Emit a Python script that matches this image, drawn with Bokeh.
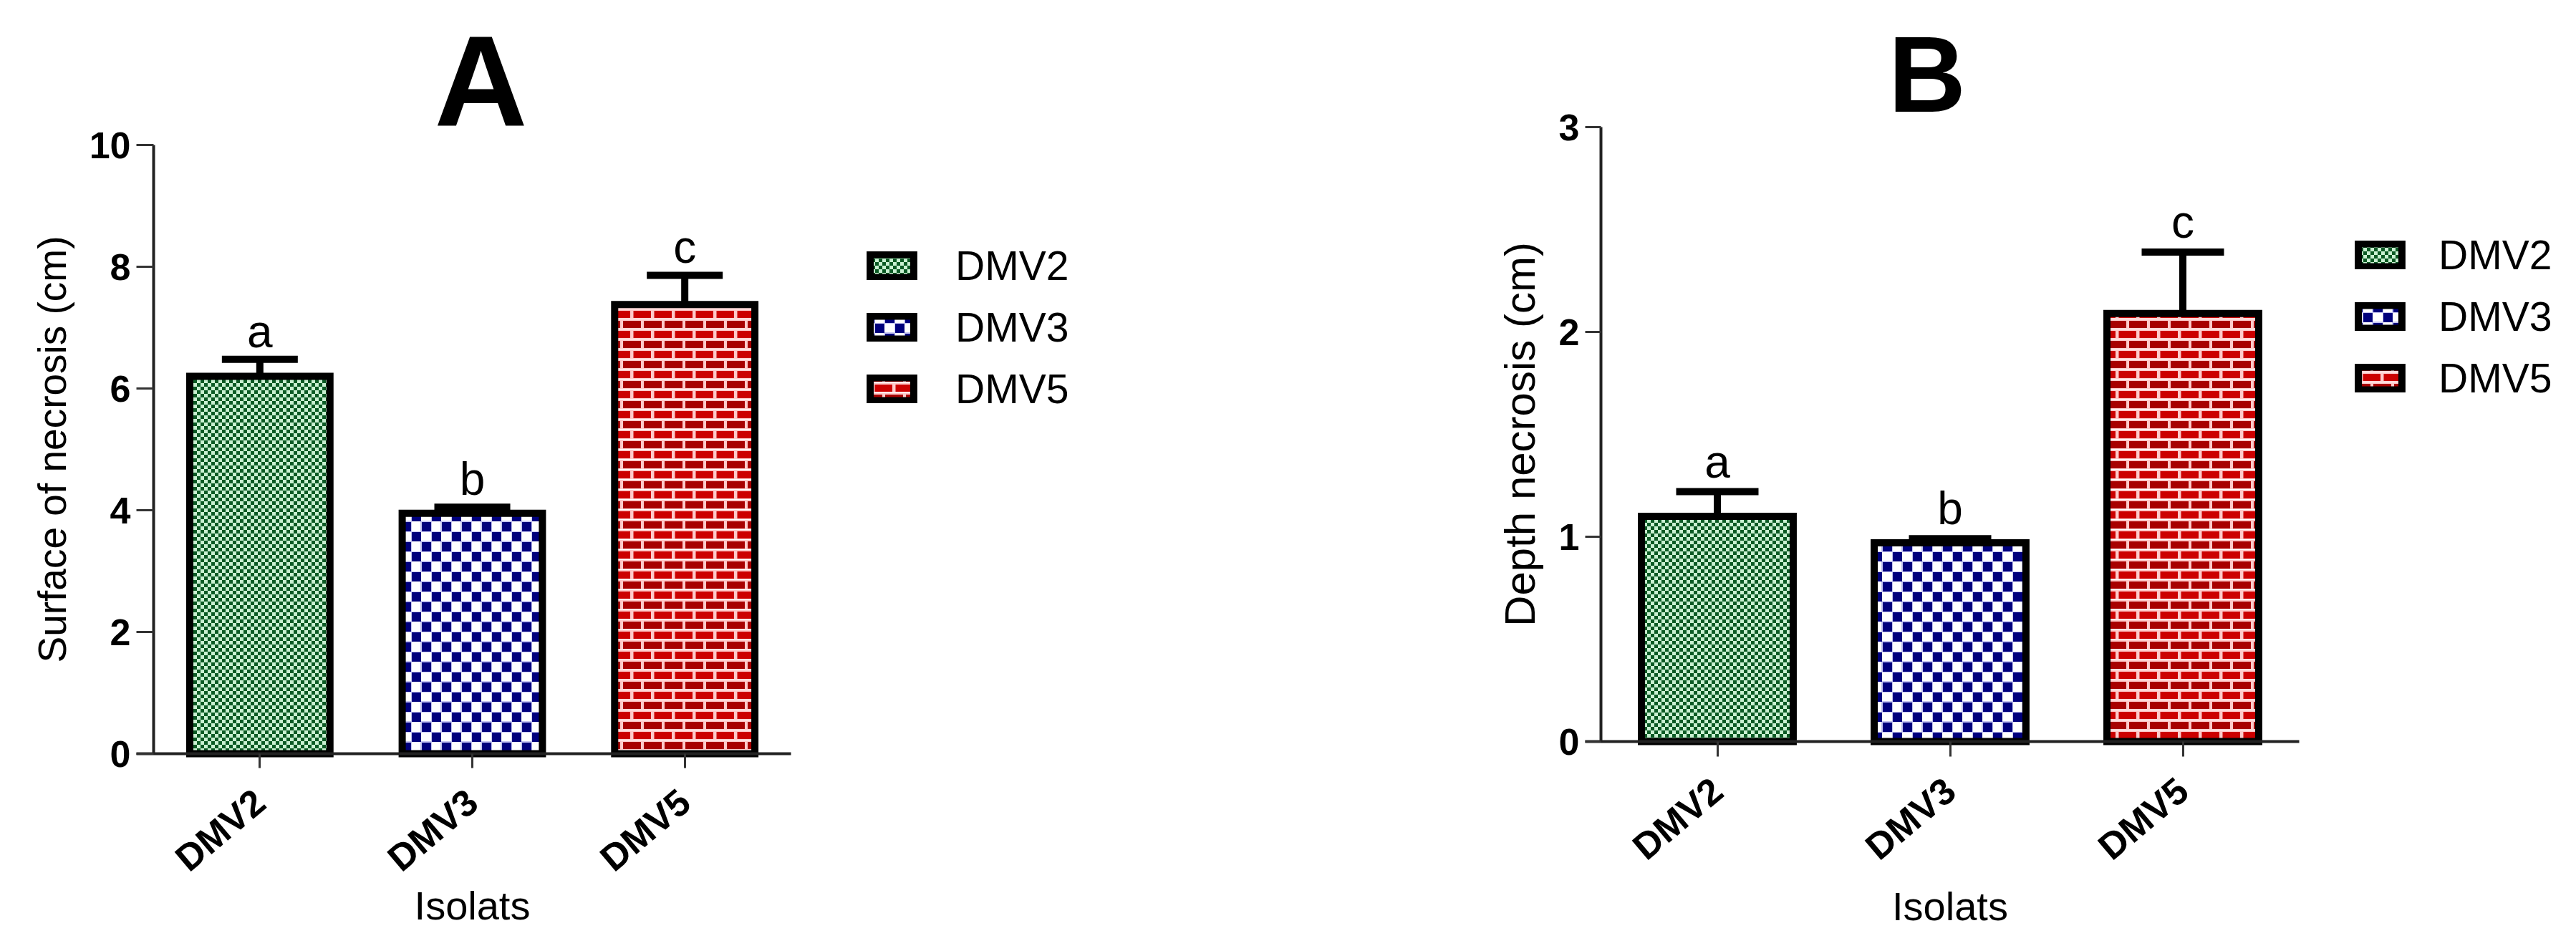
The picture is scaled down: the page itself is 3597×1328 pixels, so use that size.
import math
from bokeh.plotting import figure
from bokeh.models import (ColumnDataSource, Range1d, FixedTicker, Whisker, TeeHead,
                          Legend, LegendItem, LabelSet, CanvasTexture)
from bokeh.core.properties import value
from bokeh.layouts import row
from bokeh.embed import file_html
from bokeh.resources import INLINE

# ---------------- data ----------------
isolates = ["DMV2", "DMV3", "DMV5"]
letters = ["a", "b", "c"]
surface_mean = [6.2, 3.95, 7.38]
surface_se = [0.28, 0.10, 0.48]
depth_mean = [1.10, 0.97, 2.09]
depth_se = [0.12, 0.02, 0.30]
surface_ticks = [0, 2, 4, 6, 8, 10]
depth_ticks = [0, 1, 2, 3]
x_title = "Isolats"

# ---------------- styles ----------------
FONT = "Liberation Sans"
patterns = ["chk_green", "chk_blue", "brick"]
pattern_scales = [10, 28, 29]
base_colors = ["#cdf3d5", "#ffffff", "#ffd6d6"]

TEX = {
    "chk_green": CanvasTexture(code="""
        ctx.canvas.width = 10; ctx.canvas.height = 10;
        ctx.fillStyle = '#c9f0d1'; ctx.fillRect(0, 0, 10, 10);
        ctx.fillStyle = '#0b5a24';
        ctx.fillRect(0, 0, 5, 5); ctx.fillRect(5, 5, 5, 5);
    """),
    "chk_blue": CanvasTexture(code="""
        ctx.canvas.width = 28; ctx.canvas.height = 28;
        ctx.fillStyle = '#ffffff'; ctx.fillRect(0, 0, 28, 28);
        ctx.fillStyle = '#c4c4f2';
        ctx.fillRect(0, 0, 15, 15); ctx.fillRect(14, 14, 14, 14);
        ctx.fillRect(0, 27, 15, 1); ctx.fillRect(27, 0, 1, 15);
        ctx.fillStyle = '#00007d';
        ctx.fillRect(1, 1, 13, 13); ctx.fillRect(15, 15, 13, 13);
    """),
    "brick": CanvasTexture(code="""
        ctx.canvas.width = 29; ctx.canvas.height = 28;
        ctx.fillStyle = '#ffcaca'; ctx.fillRect(0, 0, 29, 28);
        ctx.fillStyle = '#ffffff';
        ctx.fillRect(0, 11, 29, 1); ctx.fillRect(0, 25, 29, 1);
        ctx.fillStyle = '#a80000';
        ctx.fillRect(0, 0, 25, 10);
        ctx.fillStyle = '#cc0000';
        ctx.fillRect(0, 14, 10, 10); ctx.fillRect(14.5, 14, 14.5, 10);
    """),
}


def text_set(p, src, size, bold=False, angle=0.0, dx=0, dy=0):
    p.add_layout(LabelSet(x="x", y="y", text="t", source=src, x_offset=dx, y_offset=dy,
                          angle=angle, text_align="center", text_baseline="alphabetic",
                          text_font=value(FONT), text_font_size=value(size),
                          text_font_style=value("bold" if bold else "normal"),
                          text_color="black"))


def make_panel(title, ylabel, means, ses, yticks, ytop, cat_px, unit_px,
               fig_w, fig_h, x0_px, y0_px, title_dx, title_dy, title_size,
               ylabel_size, ylabel_dx, xlabel_dy, legend_xy, legend_standoff,
               cap, letter_dy, bar_w, ytick_len, xtick_len):
    n = len(isolates)
    xs = [i + 0.5 for i in range(n)]
    src = ColumnDataSource(dict(
        x=xs, top=means, upper=[m + s for m, s in zip(means, ses)],
        lab=letters, pat=patterns, psc=pattern_scales, fc=base_colors))

    # whole figure is the frame; data origin sits at (x0_px, y0_px) from the top-left
    p = figure(x_range=Range1d(-x0_px / cat_px, (fig_w - x0_px) / cat_px),
               y_range=Range1d(-(fig_h - y0_px) / unit_px, y0_px / unit_px),
               frame_width=fig_w, frame_height=fig_h, min_border=0,
               min_border_left=0, min_border_right=0, min_border_top=0, min_border_bottom=0,
               output_backend="svg", toolbar_location=None,
               background_fill_color="white", border_fill_color="white")
    p.outline_line_color = None
    p.xgrid.grid_line_color = None
    p.ygrid.grid_line_color = None

    r = p.vbar(x="x", top="top", width=bar_w, source=src, fill_color="fc",
               line_color="black", line_width=10, line_join="miter",
               hatch_pattern="pat", hatch_scale="psc", hatch_extra=TEX)

    w = Whisker(source=src, base="x", upper="upper", lower="top", dimension="height",
                line_color="black", line_width=10,
                upper_head=TeeHead(size=cap, line_color="black", line_width=10),
                lower_head=None)
    p.add_layout(w)

    p.add_layout(LabelSet(x="x", y="upper", text="lab", source=src, y_offset=letter_dy,
                          text_align="center", text_baseline="alphabetic",
                          text_font=value(FONT), text_font_size=value("64px"),
                          text_color="black"))

    # axes, pinned at the data origin
    for ax in (p.xaxis[0], p.yaxis[0]):
        ax.fixed_location = 0
        ax.axis_line_width = 4
        ax.axis_line_color = "#222222"
        ax.major_tick_line_width = 3
        ax.major_tick_line_color = "#333333"
        ax.major_tick_in = 0
        ax.minor_tick_line_color = None
        ax.major_label_text_font = FONT
        ax.major_label_text_font_style = "bold"
        ax.major_label_text_color = "black"

    p.yaxis.bounds = (0, ytop)
    p.yaxis.ticker = FixedTicker(ticks=yticks)
    p.yaxis.major_tick_out = ytick_len
    p.yaxis.major_label_standoff = 8
    p.yaxis.major_label_text_font_size = "52px"

    p.xaxis.bounds = (-ytick_len / cat_px, n)
    p.xaxis.ticker = FixedTicker(ticks=xs)
    p.xaxis.major_label_overrides = {x: name for x, name in zip(xs, isolates)}
    p.xaxis.major_tick_out = xtick_len
    p.xaxis.major_label_orientation = 0.70
    p.xaxis.major_label_standoff = 40
    p.xaxis.major_label_text_font_size = "52px"

    # titles and axis titles
    text_set(p, ColumnDataSource(dict(x=[n / 2], y=[ytop], t=[title])), title_size,
             bold=True, dx=title_dx, dy=title_dy)
    text_set(p, ColumnDataSource(dict(x=[0], y=[ytop / 2], t=[ylabel])), ylabel_size,
             angle=math.pi / 2, dx=ylabel_dx)
    text_set(p, ColumnDataSource(dict(x=[n / 2], y=[0], t=[x_title])), "56px", dy=xlabel_dy)

    legend = Legend(items=[LegendItem(label=nm, renderers=[r], index=i)
                           for i, nm in enumerate(isolates)],
                    location=legend_xy, orientation="vertical",
                    glyph_width=76, glyph_height=40, label_standoff=legend_standoff,
                    spacing=20, padding=0, margin=0,
                    label_text_font=FONT, label_text_font_size="57px",
                    label_text_color="black",
                    border_line_alpha=0, background_fill_alpha=0)
    p.add_layout(legend, "center")
    return p


pA = make_panel("A", "Surface of necrosis (cm)", surface_mean, surface_se, surface_ticks, 10,
                296.67, 85.0, 1900, 1310, 214, 1052, 12, 27, "180px",
                "55px", -123, -231, (1207, 734), 51, 106, 17, 0.66, 24, 20)
pB = make_panel("B", "Depth necrosis (cm)", depth_mean, depth_se, depth_ticks, 3,
                325.0, 286.0, 1690, 1310, 335, 1035, -32, 22, "150px",
                "60px", -93, -249, (1385, 749), 44, 115, 20, 0.652, 22, 21)

layout = row(pA, pB)
open("out.html", "w").write(file_html(layout, INLINE))
